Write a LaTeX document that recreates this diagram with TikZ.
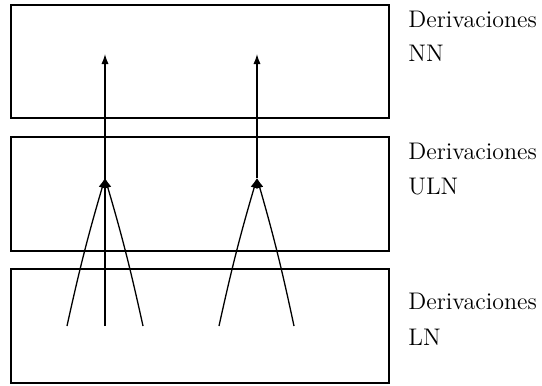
\documentclass[tikz,border=0pt]{standalone}
\usetikzlibrary{arrows.meta}
\begin{document}
\begin{tikzpicture}[x=0.5pt,y=-0.5pt,
  layerbox/.style={draw,line width=1pt,minimum width=189pt,inner sep=0pt,outer sep=0pt},
  lbl/.style={anchor=base west,inner sep=0pt,font=\fontsize{12}{14}\selectfont},
  conn/.style={line width=0.65pt},
  tip/.style={-{Latex[length=5pt,width=3.6pt]}}]
\useasboundingbox (0,0) rectangle (542,386);
% boxes
\node[layerbox,minimum height=56.5pt] (nn) at (200,61.5) {};
\node[layerbox,minimum height=57pt] (uln) at (200,194) {};
\node[layerbox,minimum height=57pt] (ln) at (200,326) {};
% labels
\node[lbl] (nn1) at (408,27) {Derivaciones};
\node[lbl] (nn2) at (408,61) {NN};
\node[lbl] (uln1) at (408,159) {Derivaciones};
\node[lbl] (uln2) at (408,194) {ULN};
\node[lbl] (ln1) at (408,309) {Derivaciones};
\node[lbl] (ln2) at (408,345) {LN};
% points
\coordinate (a0) at (105,326);
\coordinate (al) at (67,326);
\coordinate (ar) at (143,326);
\coordinate (am) at (105,178);
\coordinate (at) at (105,54);
\coordinate (bl) at (219,326);
\coordinate (br) at (294,326);
\coordinate (bm) at (257,178);
\coordinate (bt) at (257,54);
% connectors
\draw[conn,tip] (a0) -- (at);
\draw[conn,tip] (al) to[bend left=2] (am);
\draw[conn,tip] (ar) to[bend right=2] (am);
\draw[conn,tip] (bm) -- (bt);
\draw[conn,tip] (bl) to[bend left=2] (bm);
\draw[conn,tip] (br) to[bend right=2] (bm);
\end{tikzpicture}
\end{document}
